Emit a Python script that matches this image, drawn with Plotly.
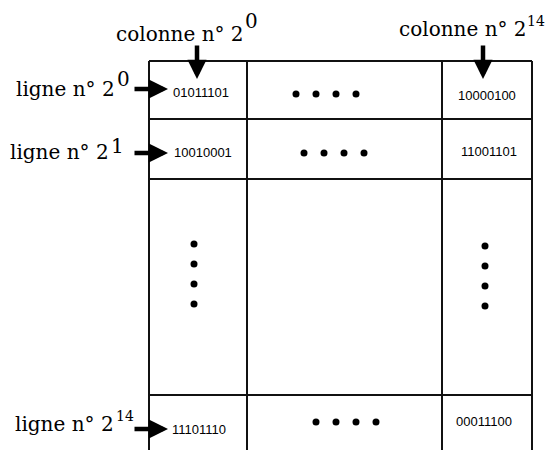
import plotly.graph_objects as go

# ---- content ----
row_labels = ["ligne n° 2", "ligne n° 2", "ligne n° 2"]
row_exponents = ["0", "1", "14"]
col_labels = ["colonne n° 2", "colonne n° 2"]
col_exponents = ["0", "14"]
cell_values = [["01011101", "10000100"],
               ["10010001", "11001101"],
               ["11101110", "00011100"]]
n_ellipsis_dots = 4

# ---- layout geometry (pixel space of the 546x450 window) ----
W, H = 546, 450
grid_x = [149, 247, 442, 532]
grid_y = [61, 119, 179, 395, 460]
row_arrow_y = [89, 153, 429]
row_label_right = [115, 109, 114]
row_label_y = [89, 152, 424]
row_sup = [(117, 79, 20, "left"), (111, 146, 20, "left"), (116, 416, 14, "left")]
col_label_right = [244, 527]
col_label_y = [34, 29]
col_sup = [(245, 21, 20, "left"), (545, 21, 14, "right")]
col_arrow_x = [197, 483]
cell_pos = [[(173, 92, "left"), (487, 95, "center")],
            [(174, 152, "left"), (489, 151, "center")],
            [(172, 429, "left"), (484, 421, "center")]]
hdots = [(296, 94), (304, 153), (316, 422)]  # start x, y
vdots = [(194, 244), (485, 246)]            # x, start y
dot_gap = 20

serif = "DejaVu Serif"
sans = "Liberation Sans"


def label(x, y, text, anchor, family, size):
    return dict(x=x, y=y, text=text, showarrow=False, xanchor=anchor, yanchor="middle",
                borderpad=0, borderwidth=0,
                font=dict(family=family, size=size, color="black"))


def arrow(x, y, ax, ay):
    return dict(x=x, y=y, ax=ax, ay=ay, axref="x", ayref="y", xref="x", yref="y",
                text="", showarrow=True, arrowhead=2, arrowwidth=4.5, arrowsize=0.85,
                arrowcolor="black")


fig = go.Figure()
shapes = []
x0, x1 = grid_x[0], grid_x[-1]
for gy in grid_y:
    shapes.append(dict(type="line", x0=x0, x1=x1, y0=gy, y1=gy,
                       line=dict(color="#111", width=2), xref="x", yref="y"))
for gx in grid_x:
    shapes.append(dict(type="line", x0=gx, x1=gx, y0=grid_y[0], y1=grid_y[-1],
                       line=dict(color="#111", width=2), xref="x", yref="y"))

ann = []
for i, lab in enumerate(row_labels):
    ann.append(label(row_label_right[i], row_label_y[i], lab, "right", serif, 20))
    sx, sy, ss, sa = row_sup[i]
    ann.append(label(sx, sy, row_exponents[i], sa, serif, ss))
    ann.append(arrow(168, row_arrow_y[i], 133, row_arrow_y[i]))
for j, lab in enumerate(col_labels):
    ann.append(label(col_label_right[j], col_label_y[j], lab, "right", serif, 20))
    sx, sy, ss, sa = col_sup[j]
    ann.append(label(sx, sy, col_exponents[j], sa, serif, ss))
    ann.append(arrow(col_arrow_x[j], 79, col_arrow_x[j], 44))
for i, row in enumerate(cell_values):
    for j, val in enumerate(row):
        px, py, anc = cell_pos[i][j]
        ann.append(label(px, py, val, anc, sans, 13))

dx, dy = [], []
for sx, sy in hdots:
    for k in range(n_ellipsis_dots):
        dx.append(sx + k * dot_gap); dy.append(sy)
for sx, sy in vdots:
    for k in range(n_ellipsis_dots):
        dx.append(sx); dy.append(sy + k * dot_gap)
fig.add_trace(go.Scatter(x=dx, y=dy, mode="markers",
                         marker=dict(size=7, color="black"), hoverinfo="skip", showlegend=False))

fig.update_layout(width=W, height=H,
                  margin=dict(l=0, r=0, t=0, b=0),
                  paper_bgcolor="white", plot_bgcolor="white",
                  shapes=shapes, annotations=ann, showlegend=False,
                  xaxis=dict(range=[0, W], visible=False, fixedrange=True),
                  yaxis=dict(range=[H, 0], visible=False, fixedrange=True))
fig.write_html("out.html", config={"displayModeBar": False},
               post_script="document.body.style.margin='0';document.body.style.overflow='hidden';")
